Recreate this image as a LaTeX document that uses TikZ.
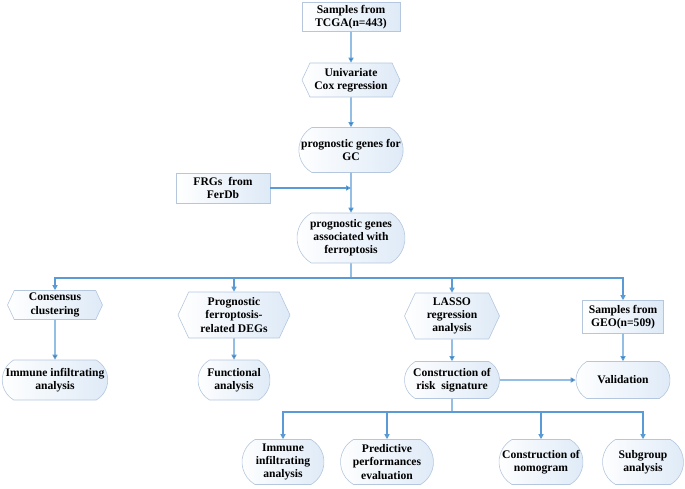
\documentclass[tikz,border=0pt]{standalone}
\usepackage{fontspec}
\setmainfont{Liberation Serif}
\usetikzlibrary{shapes.symbols,shapes.misc,arrows.meta}

\definecolor{linkblue}{RGB}{91,155,213}
\definecolor{boxline}{RGB}{180,199,222}
\definecolor{boxfill}{RGB}{222,234,247}

\tikzset{
  stepbase/.style={draw=boxline, line width=0.6pt, left color=white, right color=boxfill,
    align=center, inner sep=1pt, font=\bfseries\fontsize{11.6}{13.2}\selectfont},
  sample/.style={stepbase, rectangle},
  hexa/.style={stepbase, signal, signal to=east and west, signal pointer angle=130},
  oval/.style={stepbase, rounded rectangle, rounded rectangle arc length=120, inner xsep=0pt},
  link/.style={draw=linkblue, line width=1.2pt},
  >={Triangle[length=5pt,width=5pt]}
}

\begin{document}
\begin{tikzpicture}[x=1pt,y=-1pt]
  \useasboundingbox (0,0) rectangle (685,488);

  \node[sample, minimum width=98, minimum height=29] at (351,17) (tcga) {Samples from\\TCGA(n=443)};
  \node[hexa, minimum width=98, minimum height=34] at (351,80) (cox) {Univariate\\Cox regression};
  \node[oval, minimum width=102, minimum height=45] at (351,150) (gc) {prognostic genes for\\GC};
  \node[sample, minimum width=94, minimum height=30] at (223,188) (frg) {FRGs~~from\\FerDb};
  \node[oval, minimum width=108, minimum height=50] at (351,238) (ferro) {prognostic genes\\associated with\\ferroptosis};

  \node[hexa, minimum width=95, minimum height=29] at (55,305) (cons) {Consensus\\clustering};
  \node[hexa, minimum width=112, minimum height=46] at (234,315) (degs) {Prognostic\\ferroptosis-\\related DEGs};
  \node[hexa, minimum width=95, minimum height=46] at (452,316) (lasso) {LASSO\\regression\\analysis};
  \node[sample, minimum width=81, minimum height=33] at (623,317) (geo) {Samples from\\GEO(n=509)};

  \node[oval, minimum width=105, minimum height=40] at (55,380) (immune) {Immune infiltrating\\analysis};
  \node[oval, minimum width=72, minimum height=40] at (234,380) (func) {Functional\\analysis};
  \node[oval, minimum width=95, minimum height=37] at (452,380) (risk) {Construction of\\risk~~signature};
  \node[oval, minimum width=94, minimum height=37] at (623,380) (valid) {Validation};

  \node[oval, minimum width=82, minimum height=45] at (283,462) (immunerisk) {Immune\\infiltrating\\analysis};
  \node[oval, minimum width=93, minimum height=45] at (387,462) (pred) {Predictive\\performances\\evaluation};
  \node[oval, minimum width=84, minimum height=45] at (541,462) (nomo) {Construction of\\nomogram};
  \node[oval, minimum width=81, minimum height=45] at (643,462) (sub) {Subgroup\\analysis};

  \coordinate (merge) at (351,188);
  \coordinate (split) at (351,278);
  \coordinate (splitrisk) at (452,412);

  \path[link,->] (tcga) edge (cox) (cox) edge (gc) (gc) edge (ferro) (frg) edge (merge);
  \draw[link] (ferro) -- (split);
  \draw[link,->] (split) -| (cons);
  \draw[link,->] (split) -| (degs);
  \draw[link,->] (split) -| (lasso);
  \draw[link,->] (split) -| (geo);
  \path[link,->] (cons) edge (immune) (degs) edge (func) (lasso) edge (risk) (geo) edge (valid) (risk) edge (valid);
  \draw[link] (risk) -- (splitrisk);
  \draw[link,->] (splitrisk) -| (immunerisk);
  \draw[link,->] (splitrisk) -| (pred);
  \draw[link,->] (splitrisk) -| (nomo);
  \draw[link,->] (splitrisk) -| (sub);
\end{tikzpicture}
\end{document}
